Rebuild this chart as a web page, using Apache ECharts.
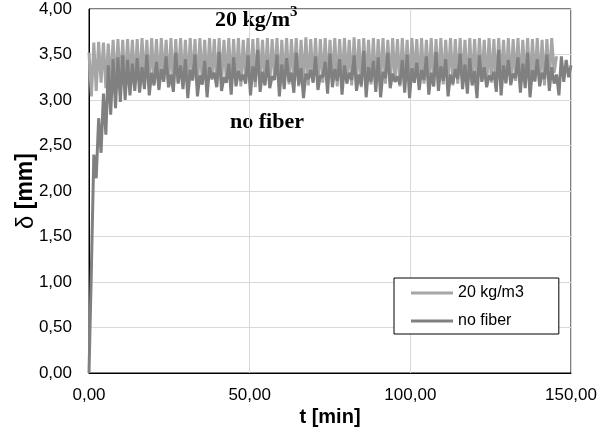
<!DOCTYPE html>
<html>
<head>
<meta charset="utf-8">
<script src="https://cdn.jsdelivr.net/npm/echarts@6/dist/echarts.min.js"></script>
<style>html,body{margin:0;padding:0;background:#fff}#c{width:616px;height:434px}</style>
</head>
<body>
<div id="c"></div>
<script>
// time values [min]
var times = [
0,0.75,1.5,2.25,3,3.75,4.5,5.25,6,6.75,7.5,8.25,9,9.75,10.5,11.25,12,12.75,13.5,14.25,
15,15.75,16.5,17.25,18,18.75,19.5,20.25,21,21.75,22.5,23.25,24,24.75,25.5,26.25,27,27.75,28.5,29.25,
30,30.75,31.5,32.25,33,33.75,34.5,35.25,36,36.75,37.5,38.25,39,39.75,40.5,41.25,42,42.75,43.5,44.25,
45,45.75,46.5,47.25,48,48.75,49.5,50.25,51,51.75,52.5,53.25,54,54.75,55.5,56.25,57,57.75,58.5,59.25,
60,60.75,61.5,62.25,63,63.75,64.5,65.25,66,66.75,67.5,68.25,69,69.75,70.5,71.25,72,72.75,73.5,74.25,
75,75.75,76.5,77.25,78,78.75,79.5,80.25,81,81.75,82.5,83.25,84,84.75,85.5,86.25,87,87.75,88.5,89.25,
90,90.75,91.5,92.25,93,93.75,94.5,95.25,96,96.75,97.5,98.25,99,99.75,100.5,101.25,102,102.75,103.5,104.25,
105,105.75,106.5,107.25,108,108.75,109.5,110.25,111,111.75,112.5,113.25,114,114.75,115.5,116.25,117,117.75,118.5,119.25,
120,120.75,121.5,122.25,123,123.75,124.5,125.25,126,126.75,127.5,128.25,129,129.75,130.5,131.25,132,132.75,133.5,134.25,
135,135.75,136.5,137.25,138,138.75,139.5,140.25,141,141.75,142.5,143.25,144,144.75,145.5,146.25,147,147.75,148.5,149.25,
150
];
// 20 kg/m3 deflection [mm]
var fiber20 = [
3.52,3.04,3.63,3.10,3.64,3.19,3.63,3.13,3.62,3.16,3.66,3.14,3.67,3.18,3.66,3.15,3.67,3.20,3.66,3.17,
3.67,3.15,3.68,3.21,3.66,3.16,3.68,3.19,3.67,3.14,3.68,3.22,3.66,3.17,3.68,3.15,3.67,3.20,3.68,3.18,
3.66,3.16,3.68,3.21,3.67,3.14,3.68,3.19,3.66,3.17,3.68,3.22,3.67,3.15,3.68,3.18,3.66,3.20,3.68,3.16,
3.67,3.19,3.68,3.15,3.66,3.21,3.68,3.17,3.67,3.14,3.68,3.20,3.66,3.18,3.68,3.16,3.67,3.22,3.68,3.15,
3.66,3.19,3.68,3.17,3.67,3.21,3.68,3.15,3.66,3.18,3.69,3.16,3.67,3.20,3.68,3.14,3.67,3.19,3.68,3.17,
3.66,3.21,3.68,3.15,3.67,3.18,3.68,3.20,3.66,3.16,3.69,3.19,3.67,3.14,3.68,3.21,3.66,3.17,3.68,3.15,
3.67,3.20,3.68,3.18,3.66,3.16,3.68,3.21,3.67,3.15,3.68,3.19,3.66,3.17,3.68,3.22,3.67,3.16,3.68,3.18,
3.66,3.20,3.68,3.15,3.67,3.19,3.68,3.17,3.66,3.21,3.68,3.16,3.67,3.18,3.68,3.20,3.66,3.15,3.68,3.19,
3.67,3.17,3.68,3.21,3.66,3.16,3.68,3.19,3.67,3.15,3.68,3.20,3.66,3.18,3.68,3.16,3.67,3.21,3.68,3.17,
3.66,3.19,3.68,3.15,3.67,3.20,3.68,3.18,3.66,3.16,3.67,3.21,3.68,3.30,3.48
];
// no fiber deflection [mm]
var noFiber = [
0,1.15,2.40,2.14,2.80,2.42,3.07,2.62,3.38,2.84,3.45,2.91,3.47,2.98,3.49,3.00,3.44,3.05,3.40,3.10,
3.46,3.08,3.36,3.12,3.50,3.05,3.30,3.16,3.42,3.11,3.34,3.20,3.48,3.14,3.28,3.09,3.52,3.18,3.38,3.12,
3.45,3.02,3.33,3.22,3.50,3.04,3.27,3.17,3.43,3.03,3.36,3.24,3.30,3.14,3.53,3.10,3.25,3.19,3.40,3.06,
3.47,3.15,3.32,3.21,3.28,3.18,3.49,3.05,3.37,3.20,3.55,3.09,3.31,3.16,3.44,3.13,3.26,3.22,3.50,3.04,
3.39,3.12,3.46,3.20,3.30,3.08,3.52,3.17,3.35,3.02,3.29,3.23,3.33,3.19,3.48,3.11,3.27,3.25,3.42,3.07,
3.51,3.14,3.34,3.21,3.45,3.06,3.38,3.18,3.30,3.22,3.49,3.10,3.28,3.16,3.54,3.03,3.36,3.20,3.43,3.09,
3.47,3.03,3.31,3.24,3.52,3.13,3.29,3.20,3.26,3.17,3.44,3.08,3.50,3.02,3.35,3.19,3.41,3.11,3.33,3.22,
3.48,3.06,3.30,3.15,3.53,3.10,3.37,3.21,3.45,3.04,3.28,3.18,3.34,3.23,3.51,3.12,3.39,3.07,3.46,3.16,
3.32,3.02,3.49,3.20,3.36,3.14,3.27,3.22,3.31,3.09,3.55,3.05,3.38,3.19,3.44,3.17,3.29,3.24,3.47,3.08,
3.40,3.13,3.52,3.03,3.33,3.21,3.45,3.15,3.30,3.23,3.50,3.10,3.36,3.18,3.28,3.05,3.48,3.20,3.44,3.25,
3.38
];
var seriesNames = ['20 kg/m3', 'no fiber'];
var xTicks = {min: 0, max: 150, interval: 50};
var yTicks = {min: 0, max: 4, interval: 0.5};

function pairs(vals) {
  var out = [];
  for (var i = 0; i < vals.length; i++) out.push([times[i], vals[i]]);
  return out;
}
function comma(v) { return v.toFixed(2).replace('.', ','); }

var chart = echarts.init(document.getElementById('c'), null, {renderer: 'canvas'});
chart.setOption({
  animation: false,
  backgroundColor: '#fff',
  textStyle: {fontFamily: 'Liberation Sans'},
  grid: {left: 89, right: 45, top: 9, bottom: 61, containLabel: false, outerBoundsMode: 'none',
         show: true, borderColor: '#000', borderWidth: 1, backgroundColor: 'transparent'},
  xAxis: {
    type: 'value', min: xTicks.min, max: xTicks.max, interval: xTicks.interval,
    name: 't [min]', nameLocation: 'middle', nameGap: 34, nameMoveOverlap: false,
    nameTextStyle: {fontFamily: 'Liberation Sans', fontWeight: 'bold', fontSize: 20, color: '#000'},
    axisLine: {lineStyle: {color: '#000', width: 1}},
    axisTick: {show: false},
    axisLabel: {formatter: comma, fontSize: 17, color: '#000', margin: 14, fontFamily: 'Liberation Sans'},
    splitLine: {show: true, lineStyle: {color: '#d9d9d9', width: 1}}
  },
  yAxis: {
    type: 'value', min: yTicks.min, max: yTicks.max, interval: yTicks.interval,
    name: '{d|δ} {b|[mm]}', nameLocation: 'middle', nameGap: 51, nameMoveOverlap: false,
    nameTextStyle: {
      fontFamily: 'Liberation Sans', fontSize: 23, color: '#000',
      rich: {
        d: {fontFamily: 'Liberation Sans', fontSize: 24, fontWeight: 'normal', color: '#000'},
        b: {fontFamily: 'Liberation Sans', fontSize: 23, fontWeight: 'bold', color: '#000'}
      }
    },
    axisLine: {show: true, lineStyle: {color: '#000', width: 1}},
    axisTick: {show: false},
    axisLabel: {formatter: comma, fontSize: 17, color: '#000', margin: 17, fontFamily: 'Liberation Sans'},
    splitLine: {show: true, lineStyle: {color: '#d9d9d9', width: 1}}
  },
  legend: {
    data: seriesNames,
    orient: 'vertical',
    left: 394, top: 278,
    padding: [7, 35, 5, 17],
    itemGap: 12,
    icon: 'rect',
    itemWidth: 42, itemHeight: 3,
    borderColor: '#000', borderWidth: 1,
    backgroundColor: '#fff',
    textStyle: {fontFamily: 'Liberation Sans', fontSize: 16, color: '#000'}
  },
  series: [
    {name: seriesNames[0], type: 'line', data: pairs(fiber20), symbol: 'none',
     lineStyle: {color: '#a6a6a6', width: 3}, itemStyle: {color: '#a6a6a6'}},
    {name: seriesNames[1], type: 'line', data: pairs(noFiber), symbol: 'none',
     lineStyle: {color: '#808080', width: 3}, itemStyle: {color: '#808080'}}
  ],
  graphic: [
    {type: 'text', left: 215, top: 9, style: {text: '20 kg/m', font: 'bold 22px "Liberation Serif"', fill: '#000'}},
    {type: 'text', left: 290, top: 5, style: {text: '3', font: 'bold 15px "Liberation Serif"', fill: '#000'}},
    {type: 'text', left: 230, top: 111, style: {text: 'no fiber', font: 'bold 22px "Liberation Serif"', fill: '#000'}}
  ]
});
</script>
</body>
</html>
